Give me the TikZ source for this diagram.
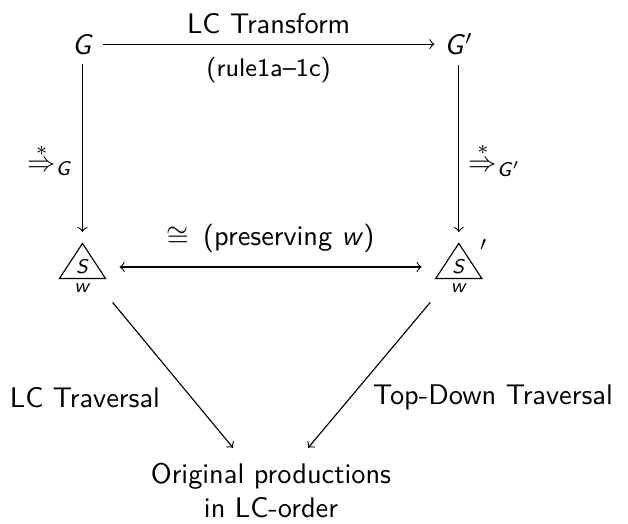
\documentclass[tikz,border=0pt]{standalone}
\usepackage{amsmath}
\usepackage{tikz}
\newcommand{\mv}[1]{\textsf{\slshape #1}}
\tikzstyle{arrow} = [->]
\tikzstyle{iso} = [
    <->,
    shorten <=7.3pt,
    shorten >=7.3pt
]
\tikzstyle{tribox} = [
    minimum width=0.557cm,
    minimum height=0.421cm,
    inner sep=0pt
]
\tikzstyle{subsym} = [font=\sffamily\scriptsize]

\begin{document}
\begin{tikzpicture}[font=\sffamily]
\useasboundingbox (0,0) rectangle (7.775,6.487);

\node (g) at (1.021,5.94) {\mv{G}};
\node (gp) at (5.68,5.94) {\mv{G}$'$};

\node (tl) [tribox] at (1.021,3.256) {};
\node (tr) [tribox] at (5.68,3.256) {};
\draw (tl.north) -- (tl.south west) -- (tl.south east) -- cycle;
\draw (tr.north) -- (tr.south west) -- (tr.south east) -- cycle;

\node (sl) [subsym] at (1.021,3.182) {\mv{S}};
\node (sr) [subsym] at (5.68,3.182) {\mv{S}};
\node (wl) [subsym] at (1.021,2.922) {\mv{w}};
\node (wr) [subsym] at (5.68,2.922) {\mv{w}};
\node (pr) at (5.99,3.392) {$'$};

\node (orig) [align=center, anchor=north] at (3.355,0.873)
{Original productions\\in LC-order};

\draw [arrow] (g) -- node[above]{LC Transform}
    node[below, yshift=-1pt]{\small (rule1a–1c)} (gp);

\draw [arrow, shorten >=4pt] (g) --
    node[left, pos=0.53]{$\stackrel{*}{\Rightarrow}_{\text{\mv{G}}}$} (tl);
\draw [arrow, shorten >=4pt] (gp) --
    node[right, pos=0.53]{$\stackrel{*}{\Rightarrow}_{\text{\mv{G}}'}$} (tr);

\draw [iso] (sl) --
    node[above, yshift=1.5pt]{$\cong$\enspace(preserving \mv{w})} (sr);

\draw [arrow] ([xshift=1.5mm]wl.south east) --
    node[left, pos=0.653, xshift=-7.5pt]{LC Traversal}
    ([xshift=-4.7mm, yshift=0.7mm]orig.north);
\draw [arrow] ([xshift=-1.3mm]wr.south west) --
    node[right, pos=0.653, xshift=4.4pt]{Top-Down Traversal}
    ([xshift=4.6mm, yshift=0.7mm]orig.north);

\end{tikzpicture}
\end{document}
